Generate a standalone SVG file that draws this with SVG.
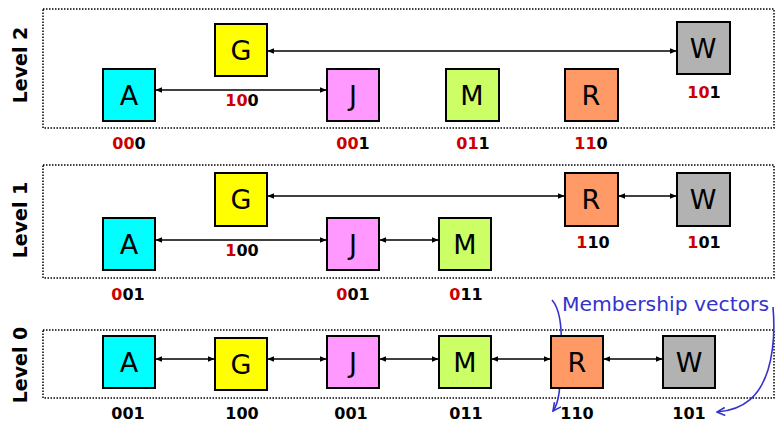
<svg xmlns="http://www.w3.org/2000/svg" width="777" height="422" viewBox="0 0 777 422">
<defs>
<marker id="ah" viewBox="0 0 10 10" refX="9" refY="5" markerWidth="7" markerHeight="7" markerUnits="userSpaceOnUse" orient="auto-start-reverse">
<path d="M0,1 L10,5 L0,9 z" fill="#000"/>
</marker>
<marker id="bh" viewBox="0 0 10 10" refX="9" refY="5" markerWidth="10" markerHeight="10" markerUnits="userSpaceOnUse" orient="auto">
<path d="M1,1 L9,5 L1,9" fill="none" stroke="#3333cc" stroke-width="1.6"/>
</marker>
</defs>
<style>
.panel{fill:none;stroke:#000;stroke-width:1.5;stroke-dasharray:1.5 1.5}
.nd{stroke:#000;stroke-width:2}
.lt{font-family:"DejaVu Sans",sans-serif;font-size:27px;fill:#000;text-anchor:middle}
.lb{font-family:"DejaVu Sans",sans-serif;font-weight:bold;font-size:16px;fill:#000;text-anchor:middle}
.r{fill:#cc0000}
.lv{font-family:"DejaVu Sans",sans-serif;font-weight:bold;font-size:19px;fill:#000;text-anchor:middle}
.cn{stroke:#000;stroke-width:1.6;fill:none;marker-start:url(#ah);marker-end:url(#ah)}
.bl{stroke:#3333cc;stroke-width:1.6;fill:none;marker-end:url(#bh)}
.mv{font-family:"DejaVu Sans",sans-serif;font-size:19px;fill:#3333cc}
.cA{fill:#00ffff}.cG{fill:#ffff00}.cJ{fill:#ff99ff}.cM{fill:#ccff66}.cR{fill:#ff9966}.cW{fill:#b2b2b2}
</style>

<g id="panels">
<rect class="panel" x="43" y="9" width="731" height="119"/>
<rect class="panel" x="43" y="165" width="731" height="113"/>
<rect class="panel" x="43" y="330" width="731" height="68"/>
<text class="lv" transform="translate(27,65) rotate(-90)">Level 2</text>
<text class="lv" transform="translate(27,220) rotate(-90)">Level 1</text>
<text class="lv" transform="translate(27,365) rotate(-90)">Level 0</text>
</g>

<g id="connectors">
<line class="cn" x1="268" y1="51" x2="676" y2="51"/>
<line class="cn" x1="156" y1="90" x2="326" y2="90"/>
<line class="cn" x1="268" y1="196" x2="564" y2="196"/>
<line class="cn" x1="619" y1="196" x2="676" y2="196"/>
<line class="cn" x1="156" y1="240" x2="326" y2="240"/>
<line class="cn" x1="380" y1="240" x2="438" y2="240"/>
<line class="cn" x1="156" y1="359" x2="214" y2="359"/>
<line class="cn" x1="268" y1="359" x2="326" y2="359"/>
<line class="cn" x1="380" y1="359" x2="438" y2="359"/>
<line class="cn" x1="492" y1="359" x2="550" y2="359"/>
<line class="cn" x1="604" y1="359" x2="662" y2="359"/>
<path class="bl" d="M552,300 C561,310 562,330 561,350 C560,380 561,400 553,411"/>
<path class="bl" d="M773,307 C775,330 774,350 768,370 C760,395 745,410 717,412"/>
</g>

<!-- Level 2 -->
<g id="L2-A"><rect class="nd cA" x="103" y="69" width="52" height="52"/><text class="lt" x="129" y="105">A</text><text class="lb" x="129" y="149"><tspan class="r">00</tspan>0</text></g>
<g id="L2-G"><rect class="nd cG" x="215" y="24" width="52" height="52"/><text class="lt" x="241" y="60">G</text><text class="lb" x="242" y="106"><tspan class="r">10</tspan>0</text></g>
<g id="L2-J"><rect class="nd cJ" x="327" y="69" width="52" height="52"/><text class="lt" x="353" y="105">J</text><text class="lb" x="353" y="149"><tspan class="r">00</tspan>1</text></g>
<g id="L2-M"><rect class="nd cM" x="446" y="69" width="53" height="52"/><text class="lt" x="472" y="105">M</text><text class="lb" x="473" y="149"><tspan class="r">01</tspan>1</text></g>
<g id="L2-R"><rect class="nd cR" x="565" y="69" width="53" height="52"/><text class="lt" x="591" y="105">R</text><text class="lb" x="591" y="149"><tspan class="r">11</tspan>0</text></g>
<g id="L2-W"><rect class="nd cW" x="677" y="22" width="53" height="52"/><text class="lt" x="703" y="58">W</text><text class="lb" x="704" y="98"><tspan class="r">10</tspan>1</text></g>

<!-- Level 1 -->
<g id="L1-A"><rect class="nd cA" x="103" y="218" width="52" height="52"/><text class="lt" x="129" y="254">A</text><text class="lb" x="128" y="300"><tspan class="r">0</tspan>01</text></g>
<g id="L1-G"><rect class="nd cG" x="215" y="173" width="52" height="53"/><text class="lt" x="241" y="209">G</text><text class="lb" x="242" y="256"><tspan class="r">1</tspan>00</text></g>
<g id="L1-J"><rect class="nd cJ" x="327" y="218" width="52" height="52"/><text class="lt" x="353" y="254">J</text><text class="lb" x="353" y="300"><tspan class="r">0</tspan>01</text></g>
<g id="L1-M"><rect class="nd cM" x="439" y="218" width="52" height="52"/><text class="lt" x="465" y="254">M</text><text class="lb" x="466" y="300"><tspan class="r">0</tspan>11</text></g>
<g id="L1-R"><rect class="nd cR" x="565" y="173" width="53" height="53"/><text class="lt" x="591" y="209">R</text><text class="lb" x="593" y="248"><tspan class="r">1</tspan>10</text></g>
<g id="L1-W"><rect class="nd cW" x="677" y="173" width="53" height="53"/><text class="lt" x="703" y="209">W</text><text class="lb" x="704" y="248"><tspan class="r">1</tspan>01</text></g>

<!-- Level 0 -->
<g id="L0-A"><rect class="nd cA" x="103" y="336" width="52" height="52"/><text class="lt" x="129" y="372">A</text><text class="lb" x="128" y="419">001</text></g>
<g id="L0-G"><rect class="nd cG" x="215" y="338" width="52" height="52"/><text class="lt" x="241" y="374">G</text><text class="lb" x="242" y="419">100</text></g>
<g id="L0-J"><rect class="nd cJ" x="327" y="336" width="52" height="52"/><text class="lt" x="353" y="372">J</text><text class="lb" x="351" y="419">001</text></g>
<g id="L0-M"><rect class="nd cM" x="439" y="336" width="52" height="52"/><text class="lt" x="465" y="372">M</text><text class="lb" x="466" y="419">011</text></g>
<g id="L0-R"><rect class="nd cR" x="551" y="336" width="52" height="52"/><text class="lt" x="577" y="372">R</text><text class="lb" x="577" y="419">110</text></g>
<g id="L0-W"><rect class="nd cW" x="663" y="336" width="52" height="52"/><text class="lt" x="689" y="372">W</text><text class="lb" x="689" y="419">101</text></g>

<g id="annotation">
<text class="mv" x="562" y="311" textLength="207" lengthAdjust="spacingAndGlyphs">Membership vectors</text>
</g>
</svg>
